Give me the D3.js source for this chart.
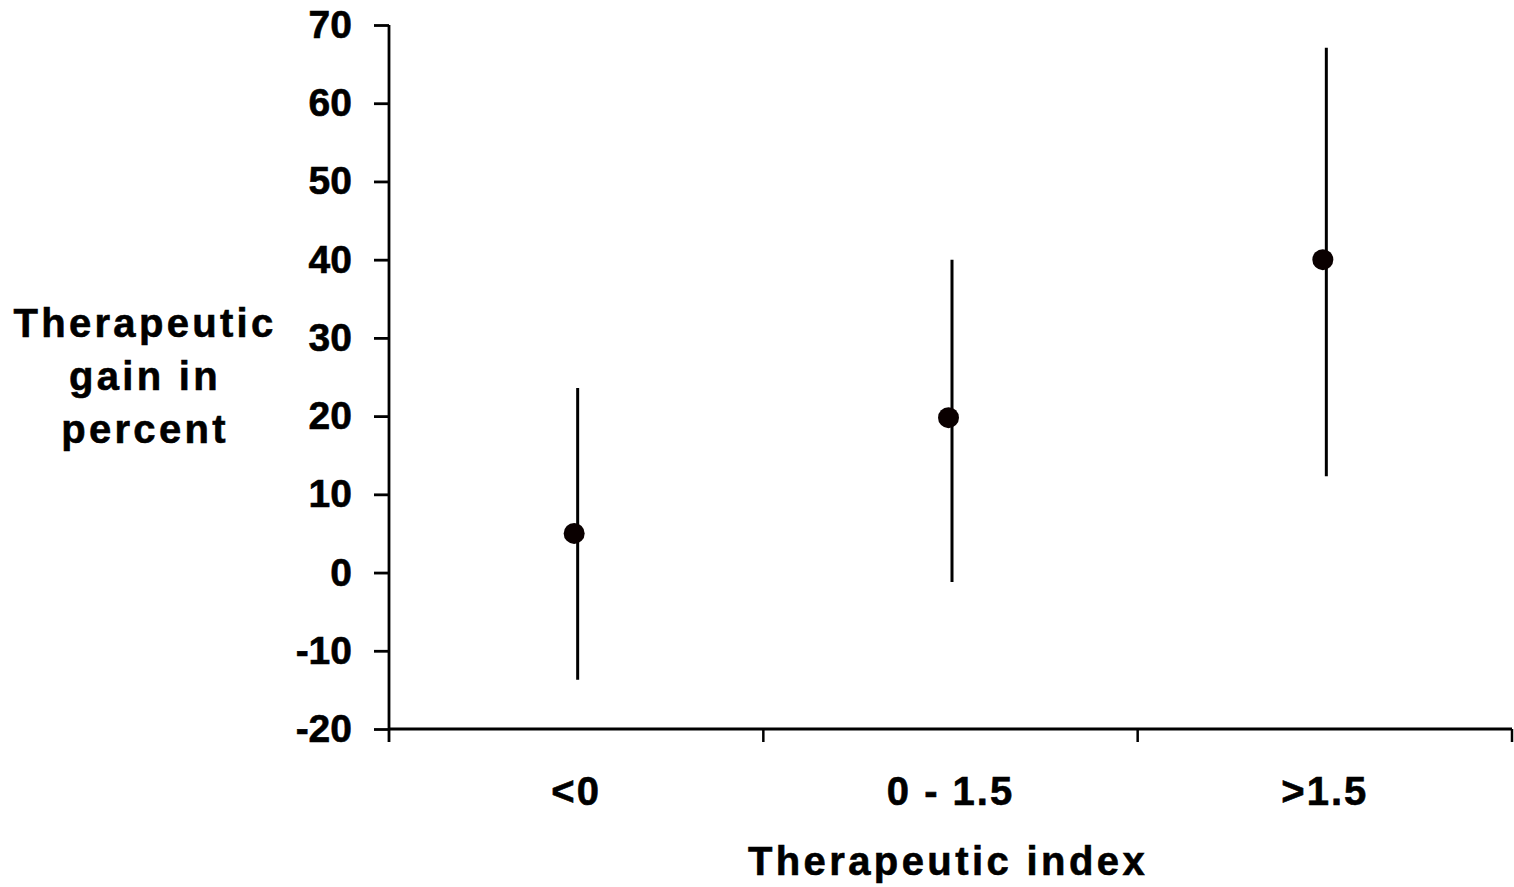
<!DOCTYPE html>
<html>
<head>
<meta charset="utf-8">
<script src="https://cdn.jsdelivr.net/npm/d3@7"></script>
<style>
  body { margin: 0; background: #fff; }
  text { font-family: "Liberation Sans", Arial, sans-serif; font-weight: bold; fill: #000; stroke: #000; stroke-width: 0.6px; }
</style>
</head>
<body>
<div id="chart"></div>
<script>
  const categories = ['<0', '0 - 1.5', '>1.5'];
  const means = [5, 19.8, 40];
  const upper = [23.6, 40, 67.1];
  const lower = [-13.7, -1.2, 12.3];
  const yTicks = [-20, -10, 0, 10, 20, 30, 40, 50, 60, 70];
  const yLabelLines = ['Therapeutic', 'gain in', 'percent'];

  const width = 1514;
  const height = 887;
  const margin = { top: 25, bottom: 158, left: 389, right: 2 };

  const data = categories.map((c, i) => ({ cat: c, mean: means[i], hi: upper[i], lo: lower[i] }));

  const svg = d3.select('#chart')
    .append('svg')
    .attr('width', width)
    .attr('height', height);

  const x = d3.scaleBand()
    .domain(categories)
    .range([margin.left, width - margin.right]);

  const y = d3.scaleLinear()
    .domain([-20, 70])
    .range([height - margin.bottom, margin.top]);

  const y0 = y(-20);

  // Y axis (plain hyphen for negatives, like the original)
  const yAxis = svg.append('g')
    .attr('transform', `translate(${margin.left},0)`)
    .call(d3.axisLeft(y).tickValues(yTicks).tickFormat(d => String(d))
      .tickSize(15).tickPadding(22).tickSizeOuter(0));
  yAxis.select('.domain').remove();
  yAxis.selectAll('line').attr('stroke', '#000').attr('stroke-width', 2.8);
  yAxis.selectAll('text').style('font-size', '39px');
  yAxis.append('line')
    .attr('x1', 0).attr('x2', 0)
    .attr('y1', y(70)).attr('y2', y0 + 13)
    .attr('stroke', '#000').attr('stroke-width', 2.8);

  // X axis
  svg.append('line')
    .attr('x1', margin.left).attr('x2', width - margin.right)
    .attr('y1', y0).attr('y2', y0)
    .attr('stroke', '#000').attr('stroke-width', 2.8);

  const edges = categories.map(c => x(c)).concat([x(categories[categories.length - 1]) + x.bandwidth()]);
  svg.append('g')
    .selectAll('line')
    .data(edges.slice(1))
    .join('line')
    .attr('x1', d => d).attr('x2', d => d)
    .attr('y1', y0).attr('y2', y0 + 13)
    .attr('stroke', '#000').attr('stroke-width', 2.5);

  svg.append('g')
    .selectAll('text')
    .data(categories)
    .join('text')
    .attr('x', d => x(d) + x.bandwidth() / 2)
    .attr('y', y0 + 76)
    .attr('text-anchor', 'middle')
    .style('font-size', '40px')
    .style('letter-spacing', '2px')
    .text(d => d);

  // Error bars
  svg.append('g')
    .selectAll('line')
    .data(data)
    .join('line')
    .attr('x1', d => x(d.cat) + x.bandwidth() / 2 + 1.5)
    .attr('x2', d => x(d.cat) + x.bandwidth() / 2 + 1.5)
    .attr('y1', d => y(d.hi))
    .attr('y2', d => y(d.lo))
    .attr('stroke', '#000')
    .attr('stroke-width', 3);

  // Means
  svg.append('g')
    .selectAll('circle')
    .data(data)
    .join('circle')
    .attr('cx', d => x(d.cat) + x.bandwidth() / 2 - 2)
    .attr('cy', d => y(d.mean))
    .attr('r', 10.5)
    .attr('fill', '#0a0000');

  // Axis titles
  svg.append('text')
    .attr('x', 948)
    .attr('y', 875)
    .attr('text-anchor', 'middle')
    .style('font-size', '40px')
    .style('letter-spacing', '3.4px')
    .text('Therapeutic index');

  svg.append('g')
    .selectAll('text')
    .data(yLabelLines)
    .join('text')
    .attr('x', 145)
    .attr('y', (d, i) => 337 + i * 53)
    .attr('text-anchor', 'middle')
    .style('font-size', '40px')
    .style('letter-spacing', '3.3px')
    .text(d => d);
</script>
</body>
</html>
